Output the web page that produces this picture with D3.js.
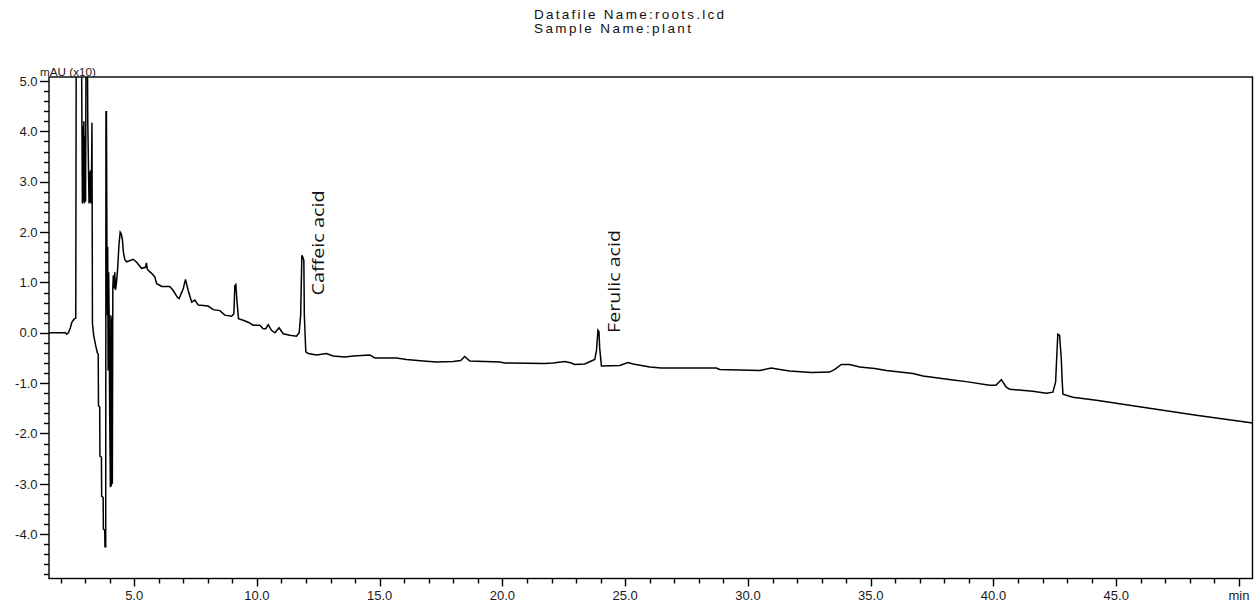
<!DOCTYPE html>
<html><head><meta charset="utf-8">
<script src="https://cdn.jsdelivr.net/npm/d3@7"></script>
<style>body{margin:0;background:#fff}svg{display:block}</style>
</head><body>
<svg id="chart" width="1255" height="603"></svg>
<script>
// ---- data (time in min, absorbance in mAU x10) ----
const times = [
1.53,2.20,2.25,2.32,2.40,2.46,2.55,2.62,2.64,2.85,2.87,2.89,2.91,2.93,2.95,2.97,3.00,3.02,3.04,3.09,
3.11,3.14,3.16,3.18,3.20,3.22,3.24,3.26,3.28,3.30,3.35,3.43,3.50,3.535,3.545,3.595,3.605,3.665,3.675,3.735,
3.745,3.80,3.81,3.84,3.85,
3.87,3.89,3.91,3.92,3.94,3.96,3.98,4.00,4.03,4.05,4.07,4.09,4.11,4.13,4.15,4.18,4.21,4.24,4.28,4.33,
4.38,4.43,4.47,4.52,4.56,4.62,4.69,4.81,4.96,5.10,5.30,5.46,5.50,5.53,5.57,5.71,5.84,5.91,6.12,6.45,
6.59,6.75,6.83,7.00,7.09,7.20,7.34,7.47,7.61,8.01,8.22,8.49,8.69,8.97,9.06,9.10,9.14,9.19,9.25,9.44,
9.64,9.85,10.12,10.25,10.36,10.46,10.59,10.73,10.90,11.07,11.34,11.61,11.72,11.78,11.83,11.87,11.91,11.93,11.99,12.09,
12.43,12.83,13.10,13.58,13.92,14.60,14.80,15.68,16.09,16.77,17.31,17.99,18.30,18.46,18.67,19.89,20.09,21.72,22.06,22.54,
22.81,22.94,23.35,23.62,23.76,23.83,23.89,23.93,23.96,24.03,24.78,25.11,25.32,26.00,26.47,28.71,28.85,30.48,30.95,31.30,
31.70,32.58,33.33,33.55,33.80,34.14,34.55,35.16,35.64,36.72,37.13,38.35,38.89,39.84,40.10,40.32,40.52,40.66,41.60,42.15,
42.42,42.53,42.62,42.69,42.76,42.80,42.83,43.23,44.19,45.54,46.90,48.26,50.56
];
const values = [
0.00,0.00,-0.03,0.00,0.10,0.21,0.27,0.29,6.00,6.00,4.26,2.57,4.10,2.60,4.20,2.57,3.90,2.60,6.00,6.00,
4.17,3.23,2.57,3.20,2.60,3.23,2.57,3.00,4.17,0.19,-0.05,-0.25,-0.40,-0.42,-1.45,-1.47,-2.45,-2.47,-3.25,-3.27,
-3.90,-3.92,-4.25,-4.25,4.39,
4.39,1.71,0.35,1.71,-0.75,1.20,0.35,-1.50,-3.07,0.35,-3.05,0.30,-3.00,0.90,1.14,0.88,1.20,0.85,1.00,1.30,
1.75,2.00,1.97,1.85,1.60,1.45,1.41,1.43,1.46,1.40,1.28,1.30,1.39,1.27,1.24,1.18,1.11,0.98,0.92,0.92,
0.84,0.71,0.68,0.88,1.06,0.84,0.61,0.65,0.55,0.53,0.46,0.44,0.35,0.33,0.38,0.94,0.96,0.60,0.28,0.25,
0.21,0.15,0.15,0.08,0.08,0.16,0.05,0.00,0.10,-0.02,-0.05,-0.07,0.00,0.35,1.54,1.50,1.44,0.35,-0.38,-0.41,
-0.44,-0.41,-0.46,-0.48,-0.46,-0.44,-0.50,-0.50,-0.53,-0.56,-0.58,-0.57,-0.55,-0.47,-0.56,-0.58,-0.60,-0.61,-0.60,-0.57,
-0.60,-0.63,-0.62,-0.56,-0.53,-0.35,0.05,0.02,-0.30,-0.66,-0.65,-0.59,-0.62,-0.68,-0.70,-0.70,-0.73,-0.75,-0.70,-0.73,
-0.76,-0.79,-0.78,-0.72,-0.63,-0.63,-0.68,-0.71,-0.75,-0.81,-0.86,-0.94,-0.97,-1.04,-1.04,-0.93,-1.08,-1.12,-1.16,-1.20,
-1.18,-0.98,-0.03,-0.05,-0.50,-0.98,-1.22,-1.28,-1.34,-1.44,-1.54,-1.64,-1.79
];
const xMajorTicks = [5,10,15,20,25,30,35,40,45,50];
const xTickLabels = ["5.0","10.0","15.0","20.0","25.0","30.0","35.0","40.0","45.0","min"];
const yMajorTicks = [-4,-3,-2,-1,0,1,2,3,4,5];
const yTickLabels = ["-4.0","-3.0","-2.0","-1.0","0.0","1.0","2.0","3.0","4.0","5.0"];
const peakNames = ["Caffeic acid","Ferulic acid"];
const peakTimes = [11.85,23.9];
const titleLines = ["Datafile Name:roots.lcd","Sample Name:plant"];
const yUnitLabel = "mAU (x10)";

// ---- layout ----
const L = 49, R = 1252.5, T = 77, B = 578.5;
const svg = d3.select("#chart");
const x = d3.scaleLinear().domain([1.53, 50.55]).range([L, R]);
const y = d3.scaleLinear().domain([-4.88, 5.08]).range([B, T]);
const FONT = "'Liberation Sans', Arial, sans-serif";

svg.append("defs").append("clipPath").attr("id","clip")
  .append("rect").attr("x",L).attr("y",T).attr("width",R-L).attr("height",B-T);

// trace
const pts = times.map((t,i)=>[t, values[i]]);
svg.append("path").datum(pts)
  .attr("clip-path","url(#clip)")
  .attr("fill","none").attr("stroke","#000").attr("stroke-width",1.5)
  .attr("stroke-linejoin","miter")
  .attr("d", d3.line().x(d=>x(d[0])).y(d=>y(d[1])));

// frame
svg.append("rect").attr("x",L).attr("y",T).attr("width",R-L).attr("height",B-T)
  .attr("fill","none").attr("stroke","#000").attr("stroke-width",1.4);

// y axis ticks
const yMinor = d3.range(-4.8, 5.01, 0.2).map(v=>Math.round(v*10)/10);
const yAx = svg.append("g").attr("stroke","#000").attr("stroke-width",1.4);
yMinor.forEach(v=>{
  const major = Math.abs(v - Math.round(v)) < 1e-6;
  yAx.append("line").attr("x1", L - (major?9:5)).attr("x2", L)
     .attr("y1", Math.round(y(v))+0.5).attr("y2", Math.round(y(v))+0.5);
});
svg.append("g").selectAll("text").data(yMajorTicks).join("text")
  .attr("x", 37.5).attr("y", d=>y(d)).attr("dy","0.36em")
  .attr("text-anchor","end").attr("font-family",FONT).attr("font-size",13)
  .attr("fill","#1a1a1a").text((d,i)=>yTickLabels[i]);

// x axis ticks
const xMinor = d3.range(2, 51, 1);
const xAx = svg.append("g").attr("stroke","#000").attr("stroke-width",1.4);
xMinor.forEach(t=>{
  const major = t % 5 === 0;
  xAx.append("line").attr("y1", B).attr("y2", B + (major?8:5))
     .attr("x1", Math.round(x(t))+0.5).attr("x2", Math.round(x(t))+0.5);
});
svg.append("g").selectAll("text").data(xMajorTicks).join("text")
  .attr("x", d=>x(d)).attr("y", 600)
  .attr("text-anchor","middle").attr("font-family",FONT).attr("font-size",13)
  .attr("fill","#1a1a1a").text((d,i)=>xTickLabels[i]);

// unit label
svg.append("text").attr("x",40).attr("y",75.5).attr("font-family",FONT)
  .attr("font-size",11).attr("fill","#1a1a1a").attr("textLength",56)
  .attr("lengthAdjust","spacingAndGlyphs").text(yUnitLabel);

// title
const tl = [190,157];
titleLines.forEach((s,i)=>{
  svg.append("text").attr("x",534).attr("y",19 + i*14)
    .attr("font-family",FONT).attr("font-size",13.5).attr("fill","#111")
    .attr("textLength",tl[i]).attr("lengthAdjust","spacing").text(s);
});

// peak labels (rotated)
const labelBottom = [295.5, 333];
const labelLen = [105, 103];
peakNames.forEach((s,i)=>{
  const px = x(peakTimes[i]) + 22;
  svg.append("text")
    .attr("transform",`translate(${px},${labelBottom[i]}) rotate(-90)`)
    .attr("font-family","'Open Sans', 'Noto Sans', sans-serif")
    .attr("font-size",17).attr("fill","#111")
    .attr("textLength",labelLen[i]).attr("lengthAdjust","spacingAndGlyphs")
    .text(s);
});
</script>
</body></html>
